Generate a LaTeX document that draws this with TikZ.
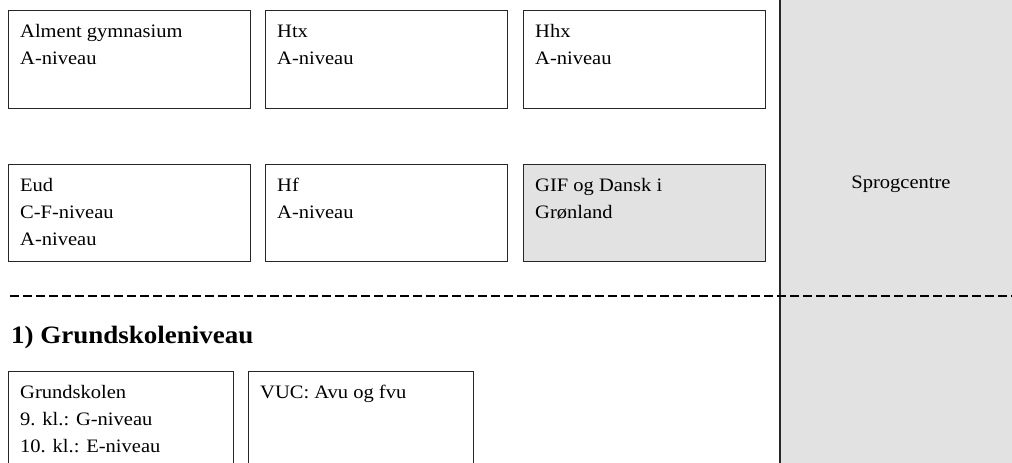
\documentclass[tikz,border=0pt]{standalone}
\usepackage{fontspec}
\setmainfont{Liberation Serif}[FakeStretch=1.08]
\definecolor{panel}{HTML}{E2E2E2}
\definecolor{edge}{HTML}{262626}
\tikzset{
  box/.style={draw=edge, line width=1.3pt, inner sep=0pt, anchor=north west},
  greybox/.style={box, fill=panel},
  txt/.style={anchor=north west, inner sep=0pt, align=left, font=\fontsize{19}{27}\selectfont},
  heading/.style={anchor=base west, inner sep=0pt, font=\fontsize{25}{29}\selectfont\bfseries},
  divider/.style={line width=2.4pt, dash pattern=on 8.5pt off 4.5pt, black},
}
\begin{document}
\begin{tikzpicture}[x=1pt, y=-1pt]
\useasboundingbox (0,0) rectangle (1012,463);
\clip (0,0) rectangle (1012,463);
% right grey panel
\node[fill=panel, inner sep=0pt, minimum width=232pt, minimum height=463pt, anchor=north west] (panel) at (780,0) {};
\draw[edge, line width=1.4pt] (panel.north west) -- (panel.south west);
\node[anchor=base, inner sep=0pt, font=\fontsize{19}{27}\selectfont] (sprog) at (901,188) {Sprogcentre};
% row 1
\node[box, minimum width=242pt, minimum height=98pt] (ag) at (8,10) {};
\node[box, minimum width=242pt, minimum height=98pt] (htx) at (265,10) {};
\node[box, minimum width=242pt, minimum height=98pt] (hhx) at (523,10) {};
\node[txt] (agt) at ([shift={(12,8)}]ag.north west) {\strut Alment gymnasium\\A-niveau};
\node[txt] (htxt) at ([shift={(12,8)}]htx.north west) {\strut Htx\\A-niveau};
\node[txt] (hhxt) at ([shift={(12,8)}]hhx.north west) {\strut Hhx\\A-niveau};
% row 2
\node[box, minimum width=242pt, minimum height=97pt] (eud) at (8,164) {};
\node[box, minimum width=242pt, minimum height=97pt] (hf) at (265,164) {};
\node[greybox, minimum width=242pt, minimum height=97pt] (gif) at (523,164) {};
\node[txt] (eudt) at ([shift={(12,8)}]eud.north west) {\strut Eud\\C-F-niveau\\A-niveau};
\node[txt] (hft) at ([shift={(12,8)}]hf.north west) {\strut Hf\\A-niveau};
\node[txt] (gift) at ([shift={(12,8)}]gif.north west) {\strut GIF og Dansk i\\Grønland};
% divider
\coordinate (dl) at (10,296);
\coordinate (dr) at (1012,296);
\draw[divider] (dl) -- (dr);
% heading
\node[heading] (head) at (11,343) {1) Grundskoleniveau};
% row 3
\node[box, minimum width=225pt, minimum height=110pt] (gs) at (8,371) {};
\node[box, minimum width=225pt, minimum height=110pt] (vuc) at (248,371) {};
\node[txt] (gst) at ([shift={(12,8)}]gs.north west) {\strut Grundskolen\\9. kl.: G-niveau\\10. kl.: E-niveau};
\node[txt] (vuct) at ([shift={(12,8)}]vuc.north west) {\strut VUC: Avu og fvu};
\end{tikzpicture}
\end{document}
